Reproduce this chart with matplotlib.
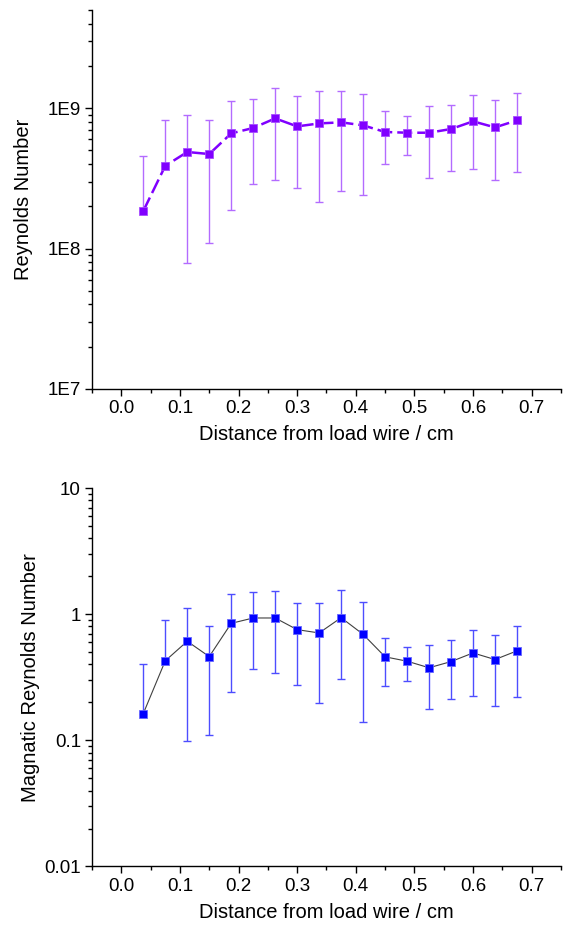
import numpy as np
import matplotlib
matplotlib.use("Agg")
import matplotlib.pyplot as plt
from matplotlib.ticker import MultipleLocator, LogLocator, FuncFormatter, NullFormatter

plt.rcParams["font.family"] = ["Liberation Sans", "DejaVu Sans"]

# distance from load wire (cm)
distance = [0.0375, 0.075, 0.1125, 0.15, 0.1875, 0.225, 0.2625, 0.3, 0.3375,
            0.375, 0.4125, 0.45, 0.4875, 0.525, 0.5625, 0.6, 0.6375, 0.675]

# Reynolds number: value, upper and lower bound of error bar
re_val = [1.85e8, 3.88e8, 4.87e8, 4.71e8, 6.61e8, 7.22e8, 8.45e8, 7.41e8, 7.78e8,
          7.92e8, 7.54e8, 6.76e8, 6.68e8, 6.68e8, 7.10e8, 8.05e8, 7.29e8, 8.18e8]
re_hi = [4.56e8, 8.24e8, 8.94e8, 8.28e8, 1.13e9, 1.16e9, 1.39e9, 1.21e9, 1.33e9,
         1.33e9, 1.26e9, 9.55e8, 8.80e8, 1.03e9, 1.06e9, 1.23e9, 1.15e9, 1.28e9]
re_lo = [1.85e8, 3.88e8, 7.84e7, 1.09e8, 1.87e8, 2.86e8, 3.07e8, 2.69e8, 2.16e8,
         2.59e8, 2.41e8, 3.97e8, 4.60e8, 3.16e8, 3.56e8, 3.66e8, 3.10e8, 3.52e8]

# magnetic Reynolds number
rm_val = [0.163, 0.427, 0.61, 0.461, 0.846, 0.933, 0.933, 0.754, 0.71,
          0.938, 0.692, 0.459, 0.424, 0.376, 0.421, 0.493, 0.437, 0.512]
rm_hi = [0.401, 0.90, 1.11, 0.811, 1.434, 1.487, 1.515, 1.226, 1.217,
         1.562, 1.249, 0.644, 0.554, 0.571, 0.628, 0.754, 0.689, 0.801]
rm_lo = [0.163, 0.427, 0.0987, 0.11, 0.241, 0.369, 0.339, 0.275, 0.199,
         0.307, 0.1406, 0.2706, 0.293, 0.178, 0.211, 0.2256, 0.1867, 0.2216]

xticks = [0.0, 0.1, 0.2, 0.3, 0.4, 0.5, 0.6, 0.7]
re_labels = {1e7: "1E7", 1e8: "1E8", 1e9: "1E9"}
rm_labels = {0.01: "0.01", 0.1: "0.1", 1: "1", 10: "10"}

fig = plt.figure(figsize=(5.63, 9.31), dpi=100)
ax1 = fig.add_axes([0.1634, 0.5822, 0.833, 0.4071])
ax2 = fig.add_axes([0.1634, 0.0693, 0.833, 0.4065])


def style_axis(ax, ylim, labels, ylabel, label_x):
    ax.set_yscale("log")
    ax.set_xlim(-0.05, 0.75)
    ax.set_ylim(*ylim)
    for s in ("top", "right"):
        ax.spines[s].set_visible(False)
    for s in ("left", "bottom"):
        ax.spines[s].set_linewidth(1.0)
    ax.set_xticks(xticks)
    ax.xaxis.set_minor_locator(MultipleLocator(0.05))
    ax.xaxis.set_major_formatter(FuncFormatter(lambda v, p: f"{v:.1f}"))
    ax.yaxis.set_major_locator(LogLocator(base=10, numticks=10))
    ax.yaxis.set_minor_locator(LogLocator(base=10, subs=np.arange(2, 10), numticks=10))
    ax.yaxis.set_minor_formatter(NullFormatter())
    ax.yaxis.set_major_formatter(FuncFormatter(
        lambda v, p: next((t for k, t in labels.items() if np.isclose(v, k)), "")))
    ax.tick_params(which="major", direction="out", length=5, width=1, labelsize=13.5, pad=3)
    ax.tick_params(which="minor", direction="out", length=3, width=1)
    ax.set_xlabel("Distance from load wire / cm", fontsize=14.5, labelpad=6)
    ax.set_ylabel(ylabel, fontsize=14.5)
    ax.yaxis.set_label_coords(label_x, 0.5)


# top: Reynolds number
re_v = np.array(re_val)
ax1.errorbar(distance, re_v, yerr=[re_v - np.array(re_lo), np.array(re_hi) - re_v],
             fmt="none", ecolor="#b36bff", elinewidth=1.0, capsize=3, capthick=1.0)
ax1.plot(distance, re_v, color="#8000ff", lw=1.8, dashes=(6, 2),
         marker="s", ms=6, mfc="#8000ff", mec="#a64dff", mew=0.6)
style_axis(ax1, (1e7, 5e9), re_labels, "Reynolds Number", -0.125)

# bottom: magnetic Reynolds number
rm_v = np.array(rm_val)
ax2.errorbar(distance, rm_v, yerr=[rm_v - np.array(rm_lo), np.array(rm_hi) - rm_v],
             fmt="none", ecolor="#4d4dff", elinewidth=1.0, capsize=3, capthick=1.0)
ax2.plot(distance, rm_v, color="#404040", lw=0.8,
         marker="s", ms=6, mfc="#0000ff", mec="#6666ff", mew=0.6)
style_axis(ax2, (0.01, 10), rm_labels, "Magnatic Reynolds Number", -0.11)

plt.savefig("out.png", dpi=100)
